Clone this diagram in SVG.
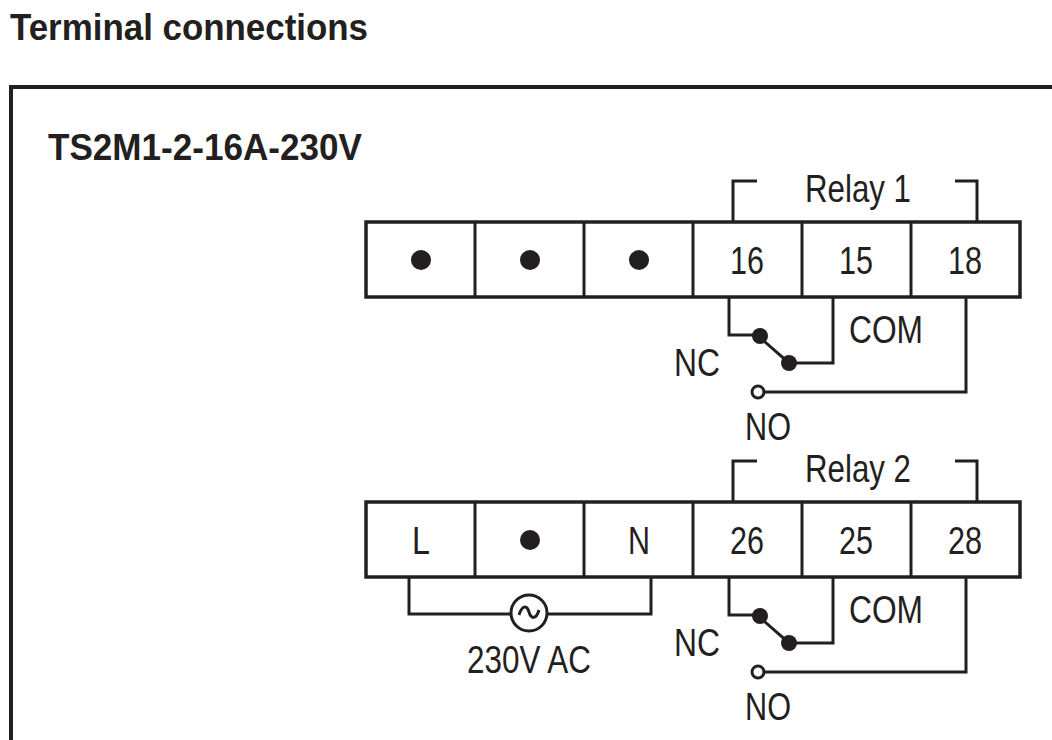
<svg xmlns="http://www.w3.org/2000/svg" width="1052" height="740" viewBox="0 0 1052 740">
<style>
text{font-family:"Liberation Sans",Arial,sans-serif;fill:#231f20}
.t{font-size:39px;text-anchor:middle}
.b{font-weight:bold}
.ln{fill:none;stroke:#231f20;stroke-width:3}
.box{fill:#fff;stroke:#231f20;stroke-width:3.5}
.d{fill:#231f20}
</style>
<rect width="1052" height="740" fill="#fff"/>
<text x="10" y="40" class="b" font-size="37" textLength="358" lengthAdjust="spacingAndGlyphs">Terminal connections</text>
<path d="M11,740 V87 H1052" fill="none" stroke="#231f20" stroke-width="4"/>
<text x="48" y="160" class="b" font-size="37" textLength="314" lengthAdjust="spacingAndGlyphs">TS2M1-2-16A-230V</text>
<g id="row1">
<rect class="box" x="366" y="222" width="654" height="75"/>
<path class="ln" d="M475,222V297M584,222V297M693,222V297M802,222V297M911,222V297" stroke-width="3.5"/>
<circle class="d" cx="421" cy="260" r="10"/><circle class="d" cx="530" cy="260" r="10"/><circle class="d" cx="639" cy="260" r="10"/>
<text class="t" x="747" y="274" textLength="34" lengthAdjust="spacingAndGlyphs">16</text>
<text class="t" x="856" y="274" textLength="34" lengthAdjust="spacingAndGlyphs">15</text>
<text class="t" x="965" y="274" textLength="34" lengthAdjust="spacingAndGlyphs">18</text>
</g>
<g id="relay1">
<path class="ln" d="M733,222V181H757M955,181H977V222"/>
<text class="t" x="858" y="202" textLength="106" lengthAdjust="spacingAndGlyphs">Relay 1</text>
<path class="ln" d="M729,297V335H757L789,363H833V297"/>
<circle class="d" cx="760" cy="336" r="8"/><circle class="d" cx="789" cy="363" r="8"/>
<path class="ln" d="M763,392H966V297"/>
<circle cx="758" cy="392" r="6" fill="#fff" stroke="#231f20" stroke-width="3"/>
<text class="t" x="886" y="343" textLength="74" lengthAdjust="spacingAndGlyphs">COM</text>
<text class="t" x="697" y="376" textLength="46" lengthAdjust="spacingAndGlyphs">NC</text>
<text class="t" x="768" y="440" textLength="46" lengthAdjust="spacingAndGlyphs">NO</text>
</g>
<g id="row2">
<rect class="box" x="366" y="502" width="654" height="75"/>
<path class="ln" d="M475,502V577M584,502V577M693,502V577M802,502V577M911,502V577" stroke-width="3.5"/>
<text class="t" x="421" y="554" textLength="18" lengthAdjust="spacingAndGlyphs">L</text>
<circle class="d" cx="530" cy="540" r="10"/>
<text class="t" x="639" y="554" textLength="22" lengthAdjust="spacingAndGlyphs">N</text>
<text class="t" x="747" y="554" textLength="34" lengthAdjust="spacingAndGlyphs">26</text>
<text class="t" x="856" y="554" textLength="34" lengthAdjust="spacingAndGlyphs">25</text>
<text class="t" x="965" y="554" textLength="34" lengthAdjust="spacingAndGlyphs">28</text>
</g>
<g id="relay2">
<path class="ln" d="M733,502V461H757M955,461H977V502"/>
<text class="t" x="858" y="482" textLength="106" lengthAdjust="spacingAndGlyphs">Relay 2</text>
<path class="ln" d="M729,577V615H757L789,643H833V577"/>
<circle class="d" cx="760" cy="616" r="8"/><circle class="d" cx="789" cy="643" r="8"/>
<path class="ln" d="M763,672H966V577"/>
<circle cx="758" cy="672" r="6" fill="#fff" stroke="#231f20" stroke-width="3"/>
<text class="t" x="886" y="623" textLength="74" lengthAdjust="spacingAndGlyphs">COM</text>
<text class="t" x="697" y="656" textLength="46" lengthAdjust="spacingAndGlyphs">NC</text>
<text class="t" x="768" y="720" textLength="46" lengthAdjust="spacingAndGlyphs">NO</text>
</g>
<g id="supply">
<path class="ln" d="M409,577V614H510M548,614H651V577"/>
<circle cx="529" cy="613" r="18" fill="#fff" stroke="#231f20" stroke-width="3"/>
<path class="ln" d="M519,615C522,605 527,605 529,612S536,620 539,610" stroke-width="2.5"/>
<text class="t" x="529" y="673" textLength="124" lengthAdjust="spacingAndGlyphs">230V AC</text>
</g>
</svg>
